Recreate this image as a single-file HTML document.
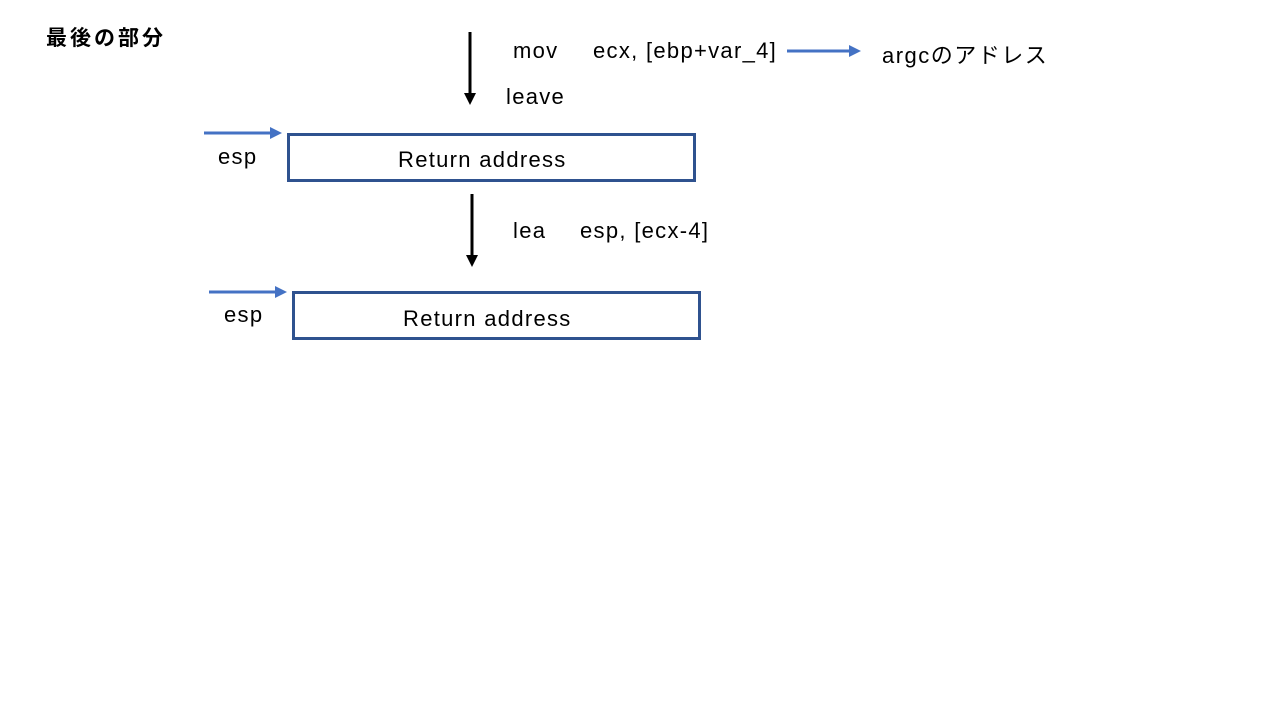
<!DOCTYPE html>
<html><head><meta charset="utf-8"><style>
body{margin:0;width:1280px;height:720px;background:#fff;position:relative;overflow:hidden;font-family:"Liberation Sans","Noto Sans CJK JP",sans-serif;}
.t{position:absolute;font-size:22px;color:#000;white-space:nowrap;letter-spacing:1.3px;}
.box{position:absolute;border:3px solid #2F528F;box-sizing:border-box;}
</style></head><body>
<div class="t" style="left:46px;top:22px;font-weight:bold;font-size:21px;letter-spacing:3px;">最後の部分</div>
<div class="t" style="left:513px;top:38px;">mov</div>
<div class="t" style="left:593px;top:38px;">ecx, [ebp+var_4]</div>
<div class="t" style="left:882px;top:38px;letter-spacing:1.5px;">argcのアドレス</div>
<div class="t" style="left:506px;top:84px;">leave</div>
<div class="box" style="left:287px;top:133px;width:409px;height:49px;"></div>
<div class="t" style="left:398px;top:147px;">Return address</div>
<div class="t" style="left:218px;top:144px;">esp</div>
<div class="t" style="left:513px;top:218px;">lea</div>
<div class="t" style="left:580px;top:218px;">esp, [ecx-4]</div>
<div class="box" style="left:292px;top:291px;width:409px;height:49px;"></div>
<div class="t" style="left:403px;top:306px;">Return address</div>
<div class="t" style="left:224px;top:302px;">esp</div>
<svg width="1280" height="720" style="position:absolute;left:0;top:0">
<line x1="470" y1="32" x2="470" y2="94" stroke="#000" stroke-width="3"/>
<polygon points="464,93 476,93 470,105" fill="#000"/>
<line x1="472" y1="194" x2="472" y2="256" stroke="#000" stroke-width="3"/>
<polygon points="466,255 478,255 472,267" fill="#000"/>
<line x1="787" y1="51" x2="850" y2="51" stroke="#4472C4" stroke-width="3"/>
<polygon points="849,45 861,51 849,57" fill="#4472C4"/>
<line x1="204" y1="133" x2="271" y2="133" stroke="#4472C4" stroke-width="3"/>
<polygon points="270,127 282,133 270,139" fill="#4472C4"/>
<line x1="209" y1="292" x2="276" y2="292" stroke="#4472C4" stroke-width="3"/>
<polygon points="275,286 287,292 275,298" fill="#4472C4"/>
</svg>
</body></html>
